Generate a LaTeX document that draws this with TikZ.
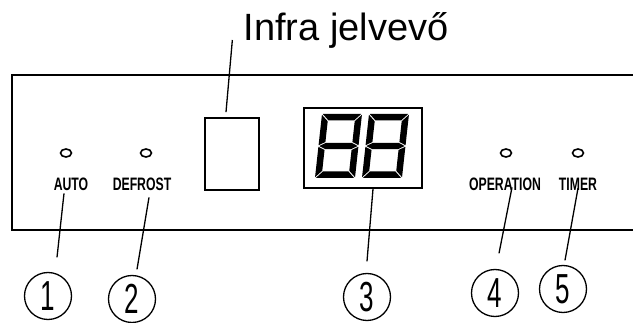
\documentclass[tikz,border=0pt]{standalone}
\usepackage{fontspec}
\setmainfont{Liberation Sans}
\usepackage{graphicx}
\usetikzlibrary{shapes.geometric}

\newcommand{\lbltext}[1]{\scalebox{0.68}[1]{#1}}
\newcommand{\numtext}[1]{\scalebox{0.62}[1]{#1}}
% one slanted seven segment eight, 40 x 64
\newcommand{\segeight}{%
\fill (0.8,0) -- (39.2,0) -- (32.7,6.5) -- (7.3,6.5) -- cycle;
\fill (40,0.8) -- (40,31.2) -- (33.5,28) -- (33.5,7.3) -- cycle;
\fill (40,32.8) -- (40,63.2) -- (33.5,56.7) -- (33.5,36) -- cycle;
\fill (0.8,64) -- (7.3,57.5) -- (32.7,57.5) -- (39.2,64) -- cycle;
\fill (0,32.8) -- (6.5,36) -- (6.5,56.7) -- (0,63.2) -- cycle;
\fill (0,0.8) -- (6.5,7.3) -- (6.5,28) -- (0,31.2) -- cycle;
\fill (0.8,32) -- (7.3,28.8) -- (32.7,28.8) -- (39.2,32) -- (32.7,35.2) -- (7.3,35.2) -- cycle;}

\tikzset{
  led/.style={draw, ellipse, line width=1.6pt, minimum width=11pt, minimum height=8pt, inner sep=0pt},
  lbl/.style={inner sep=0pt, anchor=base, font=\bfseries\fontsize{18}{18}\selectfont},
  callout/.style={draw, circle, line width=1.3pt, minimum size=47pt, inner sep=0pt, font=\fontsize{42}{42}\selectfont},
  leader/.style={line width=1.3pt},
  box/.style={draw, line width=1.8pt, inner sep=0pt},
}

\begin{document}
\begin{tikzpicture}[x=1pt, y=-1pt]
\useasboundingbox (0,0) rectangle (633,323);
%\fill[pink] (0,0) rectangle (633,323);
\draw[line width=2.4pt] (640,75) -- (12,75) -- (12,230) -- (640,230);
\node[inner sep=0pt, anchor=base, font=\fontsize{38}{38}\selectfont] (infra) at (346,41) {Infra jelvevő};
\node[box, minimum width=54pt, minimum height=72pt] (ir) at (232,154) {};
\node[box, minimum width=118pt, minimum height=80pt] (disp) at (363,148) {};
\foreach \dx in {0,47} {
  \begin{scope}[shift={(322+\dx,114)}, xslant=0.11]
    \segeight
  \end{scope}
}
\node[led] (ledauto) at (66,153) {};
\node[led] (leddefrost) at (146,153) {};
\node[led] (ledoper) at (506,153) {};
\node[led] (ledtimer) at (578,153) {};
\node[lbl] (auto) at (71,191) {\lbltext{AUTO}};
\node[lbl] (defrost) at (142,191) {\lbltext{DEFROST}};
\node[lbl] (oper) at (505,191) {\lbltext{OPERATION}};
\node[lbl] (timer) at (578,191) {\lbltext{TIMER}};
\node[callout] (n1) at (48,296) {\numtext{1}};
\node[callout] (n2) at (132,299) {\numtext{2}};
\node[callout] (n3) at (367,297) {\numtext{3}};
\node[callout] (n4) at (495,293) {\numtext{4}};
\node[callout] (n5) at (563,289) {\numtext{5}};
\draw[leader] ([xshift=-11pt,yshift=1pt]infra.base west) -- ([xshift=-6pt,yshift=5pt]ir.north);
\draw[leader] ([xshift=-7pt,yshift=-2pt]auto.south) -- ([xshift=9pt,yshift=14.5pt]n1.north);
\draw[leader] ([xshift=7pt,yshift=-6pt]defrost.south) -- ([xshift=5pt,yshift=5.5pt]n2.north);
\draw[leader] ([xshift=10pt]disp.south) -- ([yshift=11.5pt]n3.north);
\draw[leader] ([xshift=7pt,yshift=4pt]oper.south) -- ([xshift=4pt,yshift=15.5pt]n4.north);
\draw[leader] ([yshift=3pt]timer.south) -- ([xshift=2pt,yshift=4.5pt]n5.north);
\end{tikzpicture}
\end{document}
